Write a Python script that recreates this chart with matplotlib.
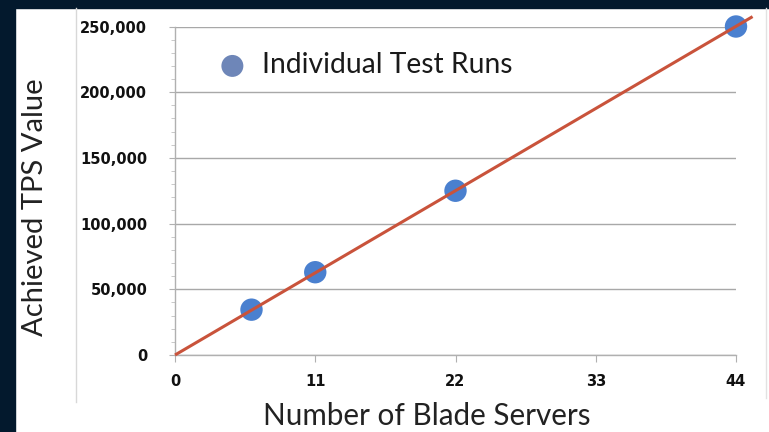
import numpy as np
from matplotlib import pyplot as plt
from matplotlib.lines import Line2D
from matplotlib.patches import Rectangle
from matplotlib.ticker import FuncFormatter, MultipleLocator

# data
servers = [6, 11, 22, 44]
tps = [34500, 63000, 125000, 250000]
x_ticks = [0, 11, 22, 33, 44]
y_ticks = [0, 50000, 100000, 150000, 200000, 250000]
trend_end = 45.3

W, H = 769, 432
fig = plt.figure(figsize=(W / 100, H / 100), dpi=100, facecolor='white')

# dark slide frame (top and left strips) and faint slide borders
navy = '#03192d'
fig.add_artist(Rectangle((0, 1 - 8 / H), 1, 8 / H, transform=fig.transFigure,
                         color=navy, zorder=0))
fig.add_artist(Rectangle((0, 0), 15 / W, 1, transform=fig.transFigure,
                         color=navy, zorder=0))
fig.add_artist(Line2D([76 / W, 76 / W], [1 - 402 / H, 1 - 8 / H],
                      transform=fig.transFigure, color='#d8d8d8', lw=1))
fig.add_artist(Line2D([766 / W, 766 / W], [1 - 398 / H, 1 - 8 / H],
                      transform=fig.transFigure, color='#e2e2e2', lw=1))

left, right = 175 / W, 736 / W
bottom, top = 1 - 355 / H, 1 - 26.5 / H
ax = fig.add_axes([left, bottom, right - left, top - bottom])
ax.set_facecolor('none')

ax.set_xlim(0, 44)
ax.set_ylim(0, 250000)
ax.set_xticks(x_ticks)
ax.set_yticks(y_ticks)
ax.yaxis.set_minor_locator(MultipleLocator(10000))
ax.yaxis.set_major_formatter(FuncFormatter(lambda v, p: f'{int(v):,}'))

for sp in ['top', 'right']:
    ax.spines[sp].set_visible(False)
for sp in ['left', 'bottom']:
    ax.spines[sp].set_color('#b0b0b0')
    ax.spines[sp].set_linewidth(1)

ax.grid(axis='y', color='#a8a8a8', lw=1)
ax.set_axisbelow(True)
ax.tick_params(axis='y', which='major', length=4, color='#b0b0b0', pad=16,
               labelsize=10.5, labelcolor='#111111')
ax.tick_params(axis='y', which='minor', length=3, color='#c0c0c0')
ax.tick_params(axis='x', length=5, color='#b0b0b0', pad=9,
               labelsize=10.5, labelcolor='#111111')
for lab in ax.get_xticklabels() + ax.get_yticklabels():
    lab.set_fontweight('bold')

# points
ax.scatter(servers, tps, s=260, color='#4a80cf', edgecolors='none',
           zorder=3, clip_on=False)

# linear trend through origin
sx = np.array(servers, dtype=float)
sy = np.array(tps, dtype=float)
slope = (sx * sy).sum() / (sx * sx).sum()
tx = np.array([0, trend_end])
ax.plot(tx, slope * tx, color='#c9533b', lw=2.2, zorder=4, clip_on=False,
        solid_capstyle='butt')

# legend-like label
ax.scatter([4.5], [220000], s=250, color='#6e86b8', edgecolors='none',
           zorder=3)
ax.text(6.8, 220500, 'Individual Test Runs', fontsize=20.3, family='Lato',
        color='#1a1a1a', va='center', ha='left')

fig.text(35 / W, 1 - 207 / H, 'Achieved TPS Value', rotation=90,
         fontsize=21, family='Lato', color='#222222', ha='center', va='center')
fig.text(427 / W, 1 - 416 / H, 'Number of Blade Servers',
         fontsize=21.3, family='Lato', color='#222222', ha='center', va='center')

fig.savefig('out.png', dpi=100, facecolor='white')
